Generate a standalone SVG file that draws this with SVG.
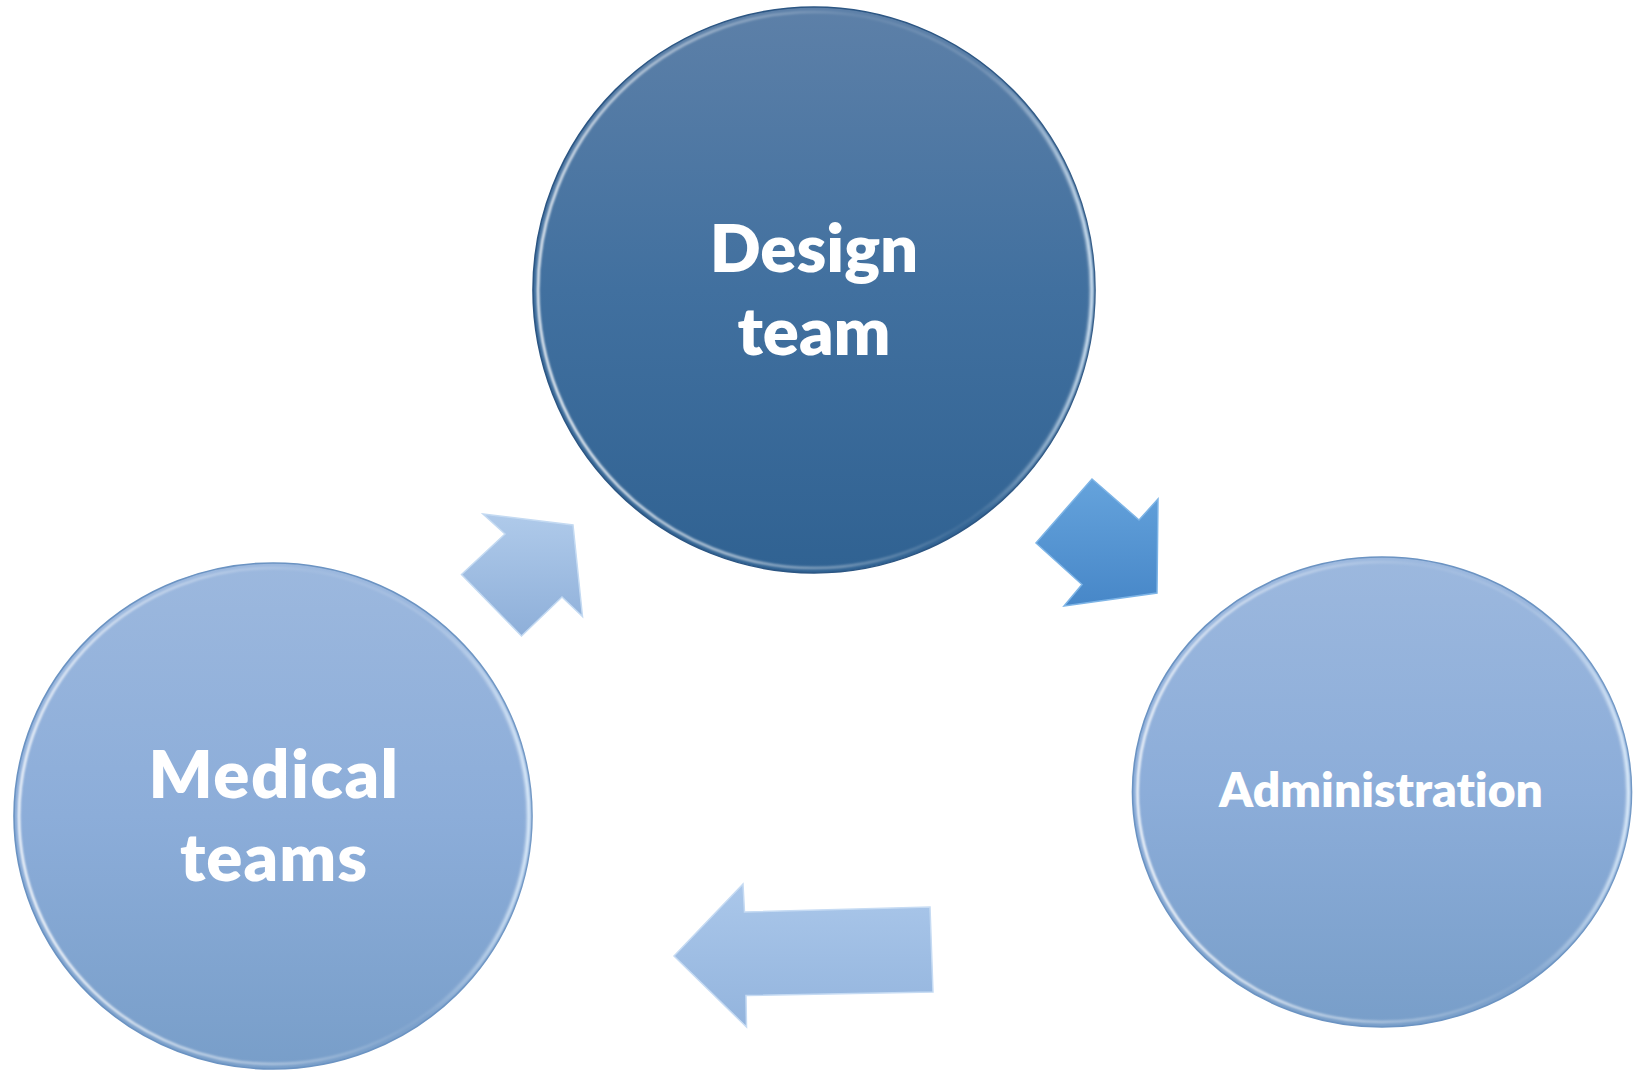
<svg xmlns="http://www.w3.org/2000/svg" width="1637" height="1070" viewBox="0 0 1637 1070">
  <defs>
    <linearGradient id="gDark" x1="0" y1="0" x2="0" y2="1">
      <stop offset="0" stop-color="#5d80a8"/>
      <stop offset="0.5" stop-color="#41709f"/>
      <stop offset="1" stop-color="#306292"/>
    </linearGradient>
    <linearGradient id="gLight" x1="0" y1="0" x2="0" y2="1">
      <stop offset="0" stop-color="#9cb8de"/>
      <stop offset="0.5" stop-color="#8cadd9"/>
      <stop offset="1" stop-color="#789ec9"/>
    </linearGradient>
    <!-- bevel highlight: strongest on the left, fading toward the upper right -->
    <linearGradient id="gRim" x1="0" y1="0.5" x2="1" y2="0.3">
      <stop offset="0" stop-color="#ffffff" stop-opacity="0.95"/>
      <stop offset="0.35" stop-color="#ffffff" stop-opacity="0.45"/>
      <stop offset="0.65" stop-color="#ffffff" stop-opacity="0.08"/>
      <stop offset="1" stop-color="#ffffff" stop-opacity="0.25"/>
    </linearGradient>
    <linearGradient id="gRimR" x1="1" y1="0" x2="0" y2="0">
      <stop offset="0" stop-color="#e6f4ff" stop-opacity="0.9"/>
      <stop offset="0.2" stop-color="#e6f4ff" stop-opacity="0"/>
      <stop offset="1" stop-color="#e6f4ff" stop-opacity="0"/>
    </linearGradient>
    <linearGradient id="gArrowA" x1="0" y1="0" x2="0" y2="1">
      <stop offset="0" stop-color="#afcaea"/>
      <stop offset="1" stop-color="#8eafd9"/>
    </linearGradient>
    <linearGradient id="gArrowB" x1="0" y1="0" x2="0" y2="1">
      <stop offset="0" stop-color="#65a3dc"/>
      <stop offset="1" stop-color="#4787c8"/>
    </linearGradient>
    <linearGradient id="gArrowC" x1="0" y1="0" x2="0" y2="1">
      <stop offset="0" stop-color="#aac7ea"/>
      <stop offset="1" stop-color="#93b4dd"/>
    </linearGradient>
    <filter id="soft" x="-5%" y="-5%" width="110%" height="110%">
      <feGaussianBlur stdDeviation="1"/>
    </filter>
  </defs>
  <style>
    .label { font-family: Lato, "Open Sans", "Liberation Sans", sans-serif; font-weight: 800; fill: #ffffff; text-anchor: middle; font-variant-ligatures: none; font-feature-settings: "liga" 0, "dlig" 0; }
    .big { font-size: 67px; }
    .small { font-size: 48px; }
    .edge { fill: none; stroke-width: 1.6; }
    .rim { fill: none; stroke: url(#gRim); stroke-width: 2.5; filter: url(#soft); }
    .rimR { fill: none; stroke: url(#gRimR); stroke-width: 3; filter: url(#soft); }
    .arrow { stroke-width: 1.5; stroke-linejoin: miter; }
  </style>

  <rect width="1637" height="1070" fill="#ffffff"/>

  <!-- cycle arrows between the three circles -->
  <g id="connectors">
    <polygon id="arrow-medical-design" class="arrow" fill="url(#gArrowA)" stroke="#c4daf2"
      points="483,514 573,525 582.5,616.5 562,597 521.5,636 461.5,574.5 505,534"/>
    <polygon id="arrow-design-admin" class="arrow" fill="url(#gArrowB)" stroke="#7db4e6"
      points="1092,479 1139,520 1158,499 1157,593 1064,606 1082,584.5 1036,543"/>
    <polygon id="arrow-admin-medical" class="arrow" fill="url(#gArrowC)" stroke="#c6dbf3"
      points="674,956 743,884 744.5,912 930,907 933,992 746,995.5 746.5,1027"/>
  </g>

  <g id="node-design">
    <ellipse cx="814" cy="290" rx="281" ry="283" fill="url(#gDark)"/>
    <ellipse class="edge" cx="814" cy="290" rx="281" ry="283" stroke="#2c5683"/>
    <ellipse class="rim" cx="814" cy="290" rx="276" ry="278"/>
    <ellipse class="rimR" cx="814" cy="290" rx="278" ry="280"/>
    <text class="label big" x="814" y="272">Design</text>
    <text class="label big" x="814" y="355">team</text>
  </g>

  <g id="node-medical">
    <ellipse cx="273" cy="816" rx="259" ry="253" fill="url(#gLight)"/>
    <ellipse class="edge" cx="273" cy="816" rx="259" ry="253" stroke="#6b93c2"/>
    <ellipse class="rim" cx="273" cy="816" rx="254" ry="248"/>
    <ellipse class="rimR" cx="273" cy="816" rx="256" ry="250"/>
    <text class="label big" x="274" y="798" letter-spacing="1.5">Medical</text>
    <text class="label big" x="274" y="881" letter-spacing="1">teams</text>
  </g>

  <g id="node-administration">
    <ellipse cx="1382" cy="792" rx="249.5" ry="235" fill="url(#gLight)"/>
    <ellipse class="edge" cx="1382" cy="792" rx="249.5" ry="235" stroke="#6b93c2"/>
    <ellipse class="rim" cx="1382" cy="792" rx="244.5" ry="230"/>
    <ellipse class="rimR" cx="1382" cy="792" rx="246.5" ry="232"/>
    <text class="label small" x="1381" y="807">Administration</text>
  </g>
</svg>
